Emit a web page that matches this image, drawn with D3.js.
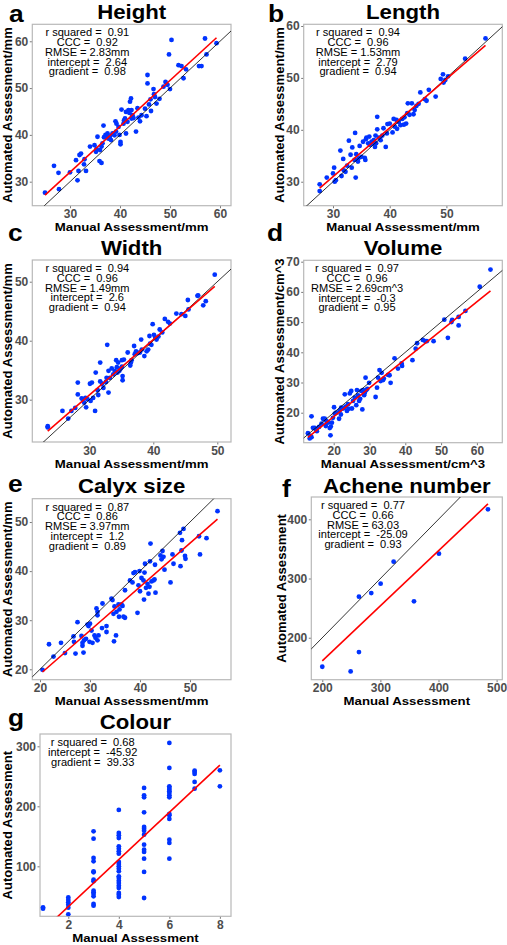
<!DOCTYPE html>
<html><head><meta charset="utf-8">
<script src="https://cdn.jsdelivr.net/npm/d3@7"></script>
<style>
body{margin:0;background:#fff}
svg{display:block;font-family:"Liberation Sans",Arial,sans-serif}
</style>
</head><body>
<svg id="chart" width="507" height="945"></svg>
<script>
// ---------------- DATA ----------------
const panelLetters = ["a","b","c","d","e","f","g"];
const panelTitles = ["Height","Length","Width","Volume","Calyx size","Achene number","Colour"];
const xLabels = ["Manual Assessment/mm","Manual Assessment/mm","Manual Assessment/mm","Manual Assessment/cm^3","Manual Assessment/mm","Manual Assessment","Manual Assessment"];
const yLabels = ["Automated Assessment/mm","Automated Assessment/mm","Automated Assessment/mm","Automated Assessment/cm^3","Automated Assessment/mm","Automated Assessment","Automated Assessment"];

const heightX = [25,26.8,27.7,27.8,30,31.2,31.5,31.7,31.9,32.2,32.8,33.2,32.9,34,34.9,35.2,35.5,35.3,35.9,36.3,36,36.3,36.5,36.7,36.8,37.1,37.3,37.5,37.7,38,38.2,38.5,38.9,39.1,39.3,39.2,39.7,39.9,40.1,40.1,40.3,40.7,40.8,41,41.2,41.2,41.5,41.7,41.9,42,42.2,42.3,42.3,42.5,42.7,43.2,43.5,43.7,44,44.3,45,45.3,45.5,45.5,45.8,46.1,46.2,46.7,46.8,47,47.3,47.9,48.7,49.1,49.5,49.8,50,50.3,51.7,52.3,52.7,53.2,55.8,56.3,57,57.3,59.3];
const heightY = [27.65,33.4,31.9,28.4,32,34.6,30.3,32.3,35.7,36,33.7,32.3,34.8,37.5,37.8,36.4,39.6,37,34.4,34,36.75,37.5,38.2,42,39.5,40,39.6,40.3,39.2,39.7,38.9,40.3,39.9,42.9,42.4,40.7,41.7,40,38.5,38,45.4,42.4,43.1,43.5,44.9,40.3,42.8,45.3,44.7,47.1,47.8,45.3,43.5,44.2,43.6,40.7,45.7,43.7,42.9,44.2,45.6,44,51,52.8,46.5,47.6,45.1,49.8,48.7,48.1,46.7,47.7,50.3,51.3,50.7,57.2,49.8,60.3,54.9,54.7,52.1,54,54.7,54.7,60.6,57.2,59.6];

const lengthX = [27.65,27.65,28.9,30,30.2,30.3,30.5,31.3,31.5,31.8,31.9,32.2,32.5,32.8,33.1,33.3,33.4,33.8,33.9,34,34.1,34.4,34.5,34.7,35,35.3,35.6,35.7,35.8,35.9,36.2,36.4,36.5,36.8,36.9,37.2,37.4,37.5,37.6,37.8,37.8,38.1,38.4,38.7,38.9,39.3,39.5,39.6,40,40.5,40.7,40.9,41.2,41.3,41.6,41.9,42.2,42.5,42.6,42.9,43.1,43.2,43.5,43.9,44.2,44.4,44.7,45.1,45.4,46.2,46.5,46.9,48.1,49,49.4,49.5,49.8,50.3,53.3,56.9];
const lengthY = [29.5,28.2,30.8,31.6,32.7,30,30.3,36,31.1,34.4,32.2,31.9,33.1,37.9,35.2,32.7,36.6,34.2,39.4,30.8,35.3,33.9,34.5,36.9,34.8,37.7,34.6,34.2,38.2,38.5,37.4,38.7,37.1,37.7,37.4,38,36.7,38.9,37.4,42.5,40.1,38.5,38,38.9,40.3,36.7,39.3,41.1,41.2,39.5,42.1,40.6,41.9,40.2,41.5,40.9,42.1,41,42.4,41.2,43.2,45.1,42.9,45.1,43,43.8,44.6,45,47.2,45.9,45.6,47.7,46.4,49.8,50.7,49.1,49.6,50.3,53.7,57.6];

const widthX = [23.5,23.5,25.8,26.7,27.2,27.8,28.2,28.2,28.8,29,29.2,29.4,29.5,29.7,30.1,30.2,30.4,30.6,30.9,31,31.3,31.4,31.7,31.7,32,32.2,32.6,32.7,32.8,33,33,33.2,33.5,33.75,33.96,34.2,34.3,34.4,34.5,34.7,34.9,35.1,35.1,35.2,35.2,35.4,36,36.4,36.5,36.6,37,37.1,37.3,37.6,37.9,38.1,38.2,38.6,38.96,39.2,39.4,39.5,39.7,39.9,40.1,40.3,40.5,40.8,41,41.4,41.8,42.3,42.6,43.6,44.4,45,45.4,45.5,46.9,47,47.8,48.2,49.6];
const widthY = [25.5,25.3,28.1,26.8,28.1,28.6,32.9,30.9,30.2,30.1,29.5,30.3,28.7,30.1,32.7,29.8,32.9,30.3,28.1,34.6,31.6,30.8,36.3,33.1,32.7,32,33,33.7,39.3,31.2,34.9,33.7,35.3,34.3,34.9,36.7,35.5,34.6,36.3,34.9,35.3,36.7,35.6,34,33.3,36.8,38,35.8,36.3,36.7,39.1,37.7,38.2,37.9,38,40.2,38.5,37.4,38.2,38.5,40.8,39.5,39.3,42.8,41,40.5,40.2,40.7,41.9,41.4,43.7,43.2,42.9,44.6,44.5,44.2,46.9,45.3,47.6,47.7,46,46.7,51.2];

const volumeX = [12.8,13.3,13.8,13.5,13.8,14.2,14.7,15,15.3,15.9,16.6,17,17.5,17.8,18,18.4,18.9,19.1,19.2,19.5,19.8,20.1,20.3,20.7,21.5,21.7,22,22.1,22.6,23.1,23.3,23.7,24,24.2,24.5,24.9,25.1,25.4,25.9,26.3,26.5,26.8,27.1,27.4,27.7,28,28.2,28.5,28.7,28.9,29.1,29.4,29.9,31.7,32.1,32.4,32.8,33.1,33.4,33.8,34,35.2,35.6,35.9,37,37.95,38.97,39.1,42,42.9,43.3,44.9,45.6,46,47.9,50.9,51.9,52.9,53.1,54.9,54.9,56.8,60.8,63.8];
const volumeY = [13.2,11.5,18.8,12.3,11.9,15,15,14.5,13.9,15.3,16.4,18,18,15.6,17.2,16.7,14.9,12.5,15.4,16.7,18.3,21.8,19.7,20,18,20.8,19.4,21.7,21.4,26.1,22,20.6,22.8,21.3,26.4,27.2,21.4,23.9,25,22.5,27.5,25.7,23.9,24.6,27.2,21.1,27.5,25.8,26.6,31.6,27.5,27.9,29.9,25.2,28.3,31.6,34.1,30.5,33.2,30.8,31.3,32.5,32.4,29.9,38,34.6,36.3,35.5,37.4,41.2,43,44.1,43.7,43.7,43.7,50.8,44.8,50,50.7,51.7,48.9,53.7,61.7,67.4];

const calyxX = [20.5,21.8,22.7,24.2,25,26.7,26.8,27.1,27.5,28.3,28.5,28.5,28.7,28.8,29.2,29.5,29.7,29.9,30,30.3,30.5,30.9,31.1,31.3,31.5,31.5,31.5,31.7,32.4,32.5,33.3,33.3,34.3,34.5,34.7,34.8,34.9,35.2,35.3,35.7,35.8,35.9,36.3,36.5,36.7,37,37,38,38.5,38.7,39,39.5,39.7,39.9,40,40.3,40.7,40.8,40.9,41,41.2,41.5,41.7,41.9,42,42.1,42.3,42.7,42.9,43,43.1,44.1,44.3,44.5,44.7,44.9,46.1,46.5,46.7,48,48.1,48.3,48.4,48.7,49,49.1,51.8,52,53.3,55.5];
const calyxY = [19.9,25.1,22.6,25.4,23.3,26.7,25.6,23.2,29.6,26.8,24.8,25.4,23.4,25.9,26.2,29.1,28.8,25.6,29.3,27.9,25.4,26.9,26.4,32.4,31.7,31,25.9,26.9,28.4,33.4,28.8,27.6,34.4,34.1,31.3,25.7,32.8,26.9,31.7,33.2,30.7,32.2,33.2,32.9,30.7,30.5,36.1,38.1,37.7,39.6,39.8,31.5,37.1,40,35.9,38.6,38.1,34.2,39.7,41.5,36.6,37.4,35.4,36.8,42,45.6,37.9,38.1,38.3,41.3,35.6,43.2,42.4,44.1,42.9,40.3,37.7,43.4,41.5,47.8,41,44.2,46.3,48.6,43.1,42.5,47.1,43.4,46.7,52.2];

const acheneX = [200,248.8,263.1,263.1,284.3,300.4,322.8,357.8,400.8,485.1];
const acheneY = [151,143.1,175.8,269.3,275.5,291.3,328.5,261.4,342,416.9];

const colourX = [1,1,
  2,2,2,2,2,2,
  3,3,3,3,3,3,3,3,3,3,3,3,3,3,
  4,4,4,4,4,4,4,4,4,4,4,4,4,4,4,4,4,4,4,4,4,4,
  5,5,5,5,5,5,5,5,5,5,5,5,5,5,
  6,6,6,6,6,6,6,6,6,6,6,6,6,6,6,
  7,7,7,7,7,
  8,8];
const colourY = [31.7,29.4,
  48,44,40,36,31,20,
  158.3,146.1,113.9,108.3,91.7,90,77.8,75,59.4,56.7,53.9,50,37.2,34.4,
  193.9,155.6,151.7,147.2,133.3,129.4,125,121.1,107.2,103.9,100,96.1,91.7,83.3,80.6,76.1,72.2,67.8,63.9,55.6,52.8,48.9,
  230.6,218.3,215,190,165.6,162.8,159.4,152.8,136.1,127.8,123.9,112.8,90.6,47.2,
  305.6,263.9,233.3,230.6,227.8,225,222.2,218.3,215,187.2,185,178.9,144.4,138.9,112.8,
  259.4,257.2,253.9,240.6,229.4,
  260,233.3];

const intercepts = [2.64, 2.79, 2.6, -0.3, 1.2, -25.09, -45.92];
const gradients  = [0.98, 0.94, 0.94, 0.95, 0.89, 0.93, 39.33];

const statsText = [
  ["r squared =  0.91","CCC =  0.92","RMSE = 2.83mm","intercept =  2.64","gradient =  0.98"],
  ["r squared =  0.94","CCC =  0.96","RMSE = 1.53mm","intercept =  2.79","gradient =  0.94"],
  ["r squared =  0.94","CCC =  0.96","RMSE = 1.49mm","intercept =  2.6","gradient =  0.94"],
  ["r squared =  0.97","CCC =  0.96","RMSE = 2.69cm^3","intercept =  -0.3","gradient =  0.95"],
  ["r squared =  0.87","CCC =  0.86","RMSE = 3.97mm","intercept =  1.2","gradient =  0.89"],
  ["r squared =  0.77","CCC =  0.66","RMSE = 63.03","intercept =  -25.09","gradient =  0.93"],
  ["r squared =  0.68","intercept =  -45.92","gradient =  39.33"]
];

const xTickValues = [[30,40,50,60],[30,40,50],[30,40,50],[20,30,40,50,60],[20,30,40,50],[200,300,400,500],[2,4,6,8]];
const yTickValues = [[30,40,50,60],[30,40,50,60],[30,40,50],[20,30,40,50,60,70],[20,30,40,50],[200,300,400],[100,200,300]];

const seriesX = [heightX, lengthX, widthX, volumeX, calyxX, acheneX, colourX];
const seriesY = [heightY, lengthY, widthY, volumeY, calyxY, acheneY, colourY];

// ---------------- LAYOUT (positions only) ----------------
const layout = [
  {box:[32.3,24.3,231,205.7],  xDom:[22.46,62.2], yDom:[24.87,63.63], letter:[9,21.8],  titleY:18.5, yTitleX:7.3,   stats:55,   showIdentity:true},
  {box:[303.7,24.3,502.3,205.7],xDom:[24.83,59.86],yDom:[25.38,60.33],letter:[268,21.8],titleY:18.5, yTitleX:279,   stats:54.3, showIdentity:true},
  {box:[32.3,260,231,442],     xDom:[21.09,52.14],yDom:[22.83,53.68],letter:[8,241],    titleY:254.5,yTitleX:7.3,   stats:55,   showIdentity:true},
  {box:[303.7,260.3,502.3,442.7],xDom:[11.62,67.1],yDom:[10.07,70.46],letter:[267,241], titleY:254.5,yTitleX:279,   stats:53.3, showIdentity:true},
  {box:[32.3,498.7,231,679.7], xDom:[18.46,58.2], yDom:[17.88,54.75], letter:[8,492],   titleY:492.5,yTitleX:7.3,   stats:55,   showIdentity:true},
  {box:[311.3,497,502.3,679.7],xDom:[181.1,509.8],yDom:[129.1,437.7],letter:[282,497],  titleY:492.5,yTitleX:281.3, stats:51.7, showIdentity:true},
  {box:[40,734,231,916.3],     xDom:[0.88,8.44],  yDom:[16.7,320.5],  letter:[8,726],   titleY:728.5,yTitleX:7.3,   stats:52.7, showIdentity:false}
];
const SX = 1.1; // horizontal stretch of the original figure's lettering

// ---------------- DRAW ----------------
const svg = d3.select("#chart");
const defs = svg.append("defs");

function htext(parent, x, y, sx) {
  return parent.append("text").attr("transform", `translate(${x},${y}) scale(${sx},1)`);
}

layout.forEach((L, i) => {
  const [l, t, r, b] = L.box;
  const x = d3.scaleLinear().domain(L.xDom).range([l, r]);
  const y = d3.scaleLinear().domain(L.yDom).range([b, t]);
  const g = svg.append("g");

  defs.append("clipPath").attr("id", "clip" + i)
    .append("rect").attr("x", l).attr("y", t).attr("width", r - l).attr("height", b - t);

  // panel letter & title
  htext(g, L.letter[0], L.letter[1], SX)
    .attr("font-size", 24).attr("font-weight", "bold").attr("fill", "#000").text(panelLetters[i]);
  htext(g, (l + r) / 2, L.titleY, 1.11).attr("text-anchor", "middle")
    .attr("font-size", 20).attr("font-weight", "bold").attr("fill", "#000").text(panelTitles[i]);

  // axes
  const ax = g.append("g").attr("transform", `translate(0,${b})`)
    .call(d3.axisBottom(x).tickValues(xTickValues[i]).tickFormat(d3.format("d")).tickSizeOuter(0).tickSize(2.5).tickPadding(1.5));
  const ay = g.append("g").attr("transform", `translate(${l},0)`)
    .call(d3.axisLeft(y).tickValues(yTickValues[i]).tickFormat(d3.format("d")).tickSizeOuter(0).tickSize(2.5).tickPadding(1.5));
  [ax, ay].forEach(a => {
    a.select(".domain").remove();
    a.selectAll(".tick line").attr("stroke", "#555").attr("stroke-width", 0.8);
    a.selectAll(".tick text").attr("fill", "#4d4d4d").attr("font-size", 12).attr("font-weight", "bold")
      .attr("font-family", "'Liberation Sans', Arial, sans-serif");
  });

  // axis titles
  htext(g, (l + r) / 2, b + 25.5, 1.12).attr("text-anchor", "middle")
    .attr("font-size", 11.8).attr("font-weight", "bold").attr("fill", "#000").text(xLabels[i]);
  g.append("text").attr("transform", `translate(${L.yTitleX},${(t + b) / 2}) rotate(-90)`)
    .attr("text-anchor", "middle").attr("dy", "0.36em")
    .attr("font-size", 13.1).attr("font-weight", "bold").attr("fill", "#000").text(yLabels[i]);

  // frame
  g.append("rect").attr("x", l).attr("y", t).attr("width", r - l).attr("height", b - t)
    .attr("fill", "none").attr("stroke", "#b8b8b8").attr("stroke-width", 1.2);

  const plot = g.append("g").attr("clip-path", `url(#clip${i})`);

  // points
  const pts = seriesX[i].map((v, k) => [v, seriesY[i][k]]);
  plot.selectAll("circle").data(pts).enter().append("circle")
    .attr("cx", d => x(d[0])).attr("cy", d => y(d[1])).attr("r", 2.4).attr("fill", "#0033ff");

  // identity line
  if (L.showIdentity) {
    const lo = Math.min(L.xDom[0], L.yDom[0]), hi = Math.max(L.xDom[1], L.yDom[1]);
    plot.append("line").attr("x1", x(lo)).attr("y1", y(lo)).attr("x2", x(hi)).attr("y2", y(hi))
      .attr("stroke", "#000").attr("stroke-width", 0.8);
  }
  // fitted line
  const xmin = d3.min(seriesX[i]), xmax = d3.max(seriesX[i]);
  const f = v => intercepts[i] + gradients[i] * v;
  plot.append("line").attr("x1", x(xmin)).attr("y1", y(f(xmin))).attr("x2", x(xmax)).attr("y2", y(f(xmax)))
    .attr("stroke", "#ff0000").attr("stroke-width", 1.6);

  // stats text
  const st = htext(g, l + L.stats, t + 12, 1.085).attr("font-size", 10.2).attr("fill", "#000")
    .attr("text-anchor", "middle").style("white-space", "pre");
  statsText[i].forEach((s, k) => {
    st.append("tspan").attr("x", 0).attr("y", k * 9.8).text(s);
  });
});
</script>
</body></html>
